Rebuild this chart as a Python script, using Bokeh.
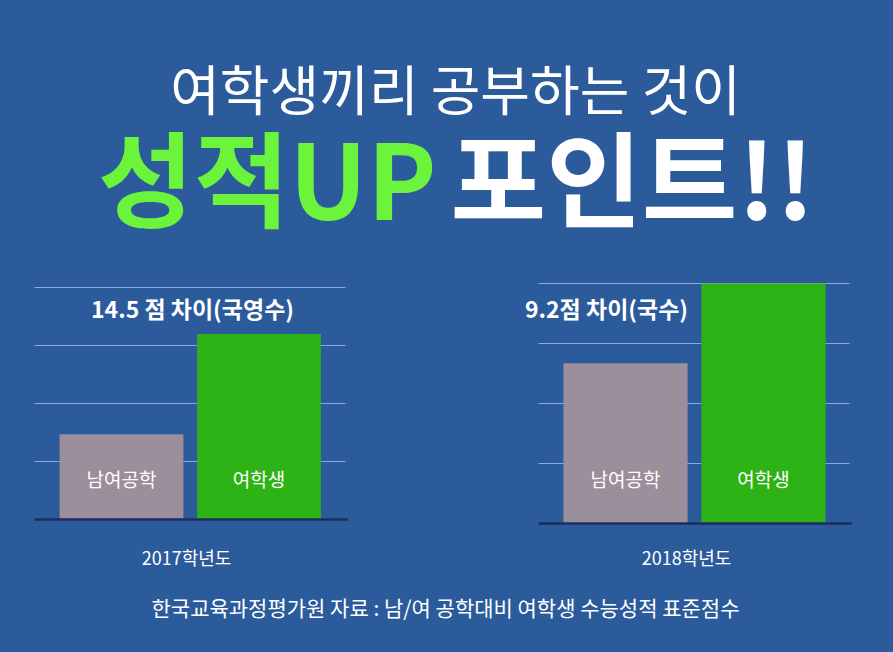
from bokeh.plotting import figure
from bokeh.models import Range1d, Grid, FixedTicker, Span, Label, ColumnDataSource
from bokeh.layouts import column, row
from bokeh.embed import file_html
from bokeh.resources import INLINE
from bokeh.core.properties import value

# ---------------- data ----------------
HEADLINE = "여학생끼리 공부하는 것이"
SLOGAN_GREEN = "성적UP"
SLOGAN_WHITE = "포인트!!"
SOURCE_NOTE = "한국교육과정평가원 자료 : 남/여 공학대비 여학생 수능성적 표준점수"

CATEGORIES = ["남여공학", "여학생"]
YEARS = ["2017학년도", "2018학년도"]
GAP_LABELS = ["14.5 점 차이(국영수)", "9.2점 차이(국수)"]
VALUES_2017 = [1.47, 3.2]   # relative bar heights (grid units)
VALUES_2018 = [2.67, 4.0]
GRID_TICKS = [1, 2, 3, 4]

# ---------------- style ----------------
BG = "#2c5b9c"
GRAY = "#9b8f9b"
GREEN = "#2eb316"
LIME = "#6cf43c"
GRID_C = "#87a9dc"
BASE_C = "#1b2d5e"
FONT = "Noto Sans CJK KR"

W = 893
H_HEAD = 262
H_ROW = 315
H_FOOT = 75


def blank(width, height, x_range, y_range):
    p = figure(width=width, height=height, x_range=x_range, y_range=y_range,
               x_axis_type=None, y_axis_type=None, toolbar_location=None,
               output_backend="svg", min_border=0)
    p.background_fill_color = BG
    p.border_fill_color = BG
    p.outline_line_color = None
    p.grid.visible = False
    return p


# ---------------- header ----------------
head = blank(W, H_HEAD, Range1d(0, W), Range1d(H_HEAD, 0))
head.add_layout(Label(x=455, y=87, text=HEADLINE, text_font=FONT, text_font_size="54px",
                      text_color="white", text_align="center", text_baseline="middle"))
head.add_layout(Label(x=436, y=174, text=SLOGAN_GREEN, text_font=FONT, text_font_size="104px",
                      text_font_style="bold", text_color=LIME, text_align="right",
                      text_baseline="middle"))
head.add_layout(Label(x=450, y=174, text=SLOGAN_WHITE, text_font=FONT, text_font_size="104px",
                      text_font_style="bold", text_color="white", text_align="left",
                      text_baseline="middle"))


# ---------------- bar charts ----------------
def bar_chart(width, left_px, right_px, first_bar_px, bar_step_px, values, year, gap_label,
              gap_x, year_x, px_per_unit, baseline_px):
    # horizontal geometry: pixel positions within this figure
    x0 = -first_bar_px / bar_step_px
    x1 = (width - first_bar_px) / bar_step_px
    g0 = (left_px - first_bar_px) / bar_step_px
    g1 = (right_px - first_bar_px) / bar_step_px
    top = baseline_px / px_per_unit
    bottom = -(H_ROW - baseline_px) / px_per_unit

    def ypix(py):  # pixel row within this figure -> data y
        return (baseline_px - py) / px_per_unit

    p = blank(width, H_ROW, Range1d(x0, x1), Range1d(bottom, top))
    p.add_layout(Grid(dimension=1, ticker=FixedTicker(ticks=GRID_TICKS),
                      cross_bounds=(g0, g1),
                      grid_line_color=GRID_C, grid_line_width=1.2), "center")
    pos = list(range(len(CATEGORIES)))
    src = ColumnDataSource(dict(pos=pos, cat=CATEGORIES, val=values, color=[GRAY, GREEN]))
    p.vbar(x="pos", top="val", bottom=0, width=0.9, source=src,
           fill_color="color", line_color=None)
    p.segment(x0=g0, x1=g1 + 0.02, y0=0, y1=0, line_color=BASE_C, line_width=2.5)
    p.text(x="pos", y=ypix(478 - 262), text="cat", source=src, text_color="white",
           text_font=value(FONT), text_font_size="19px", text_align="center",
           text_baseline="middle")
    p.add_layout(Label(x=gap_x, y=ypix(307 - 262), text=gap_label, x_units="screen",
                       text_font=FONT, text_font_size="23px", text_font_style="bold",
                       text_color="white", text_align="center", text_baseline="middle"))
    p.add_layout(Label(x=year_x, y=ypix(556 - 262), text=year, x_units="screen",
                       text_font=FONT, text_font_size="18px", text_color="white",
                       text_align="center", text_baseline="middle"))
    return p


c1 = bar_chart(446, 34, 345, 121, 137.5, VALUES_2017, YEARS[0], GAP_LABELS[0],
               192, 186, 58, 519 - 262)
c2 = bar_chart(447, 538 - 446, 849 - 446, 625 - 446, 138, VALUES_2018, YEARS[1], GAP_LABELS[1],
               606 - 446, 686 - 446, 60, 523 - 262)

# ---------------- footer ----------------
foot = blank(W, H_FOOT, Range1d(0, W), Range1d(H_FOOT, 0))
foot.add_layout(Label(x=445, y=29, text=SOURCE_NOTE, text_font=FONT, text_font_size="21px",
                      text_color="white", text_align="center", text_baseline="middle"))

layout = column(head, row(c1, c2, spacing=0), foot, spacing=0)
layout.styles = {"background-color": BG}

open("out.html", "w").write(file_html(layout, INLINE))
